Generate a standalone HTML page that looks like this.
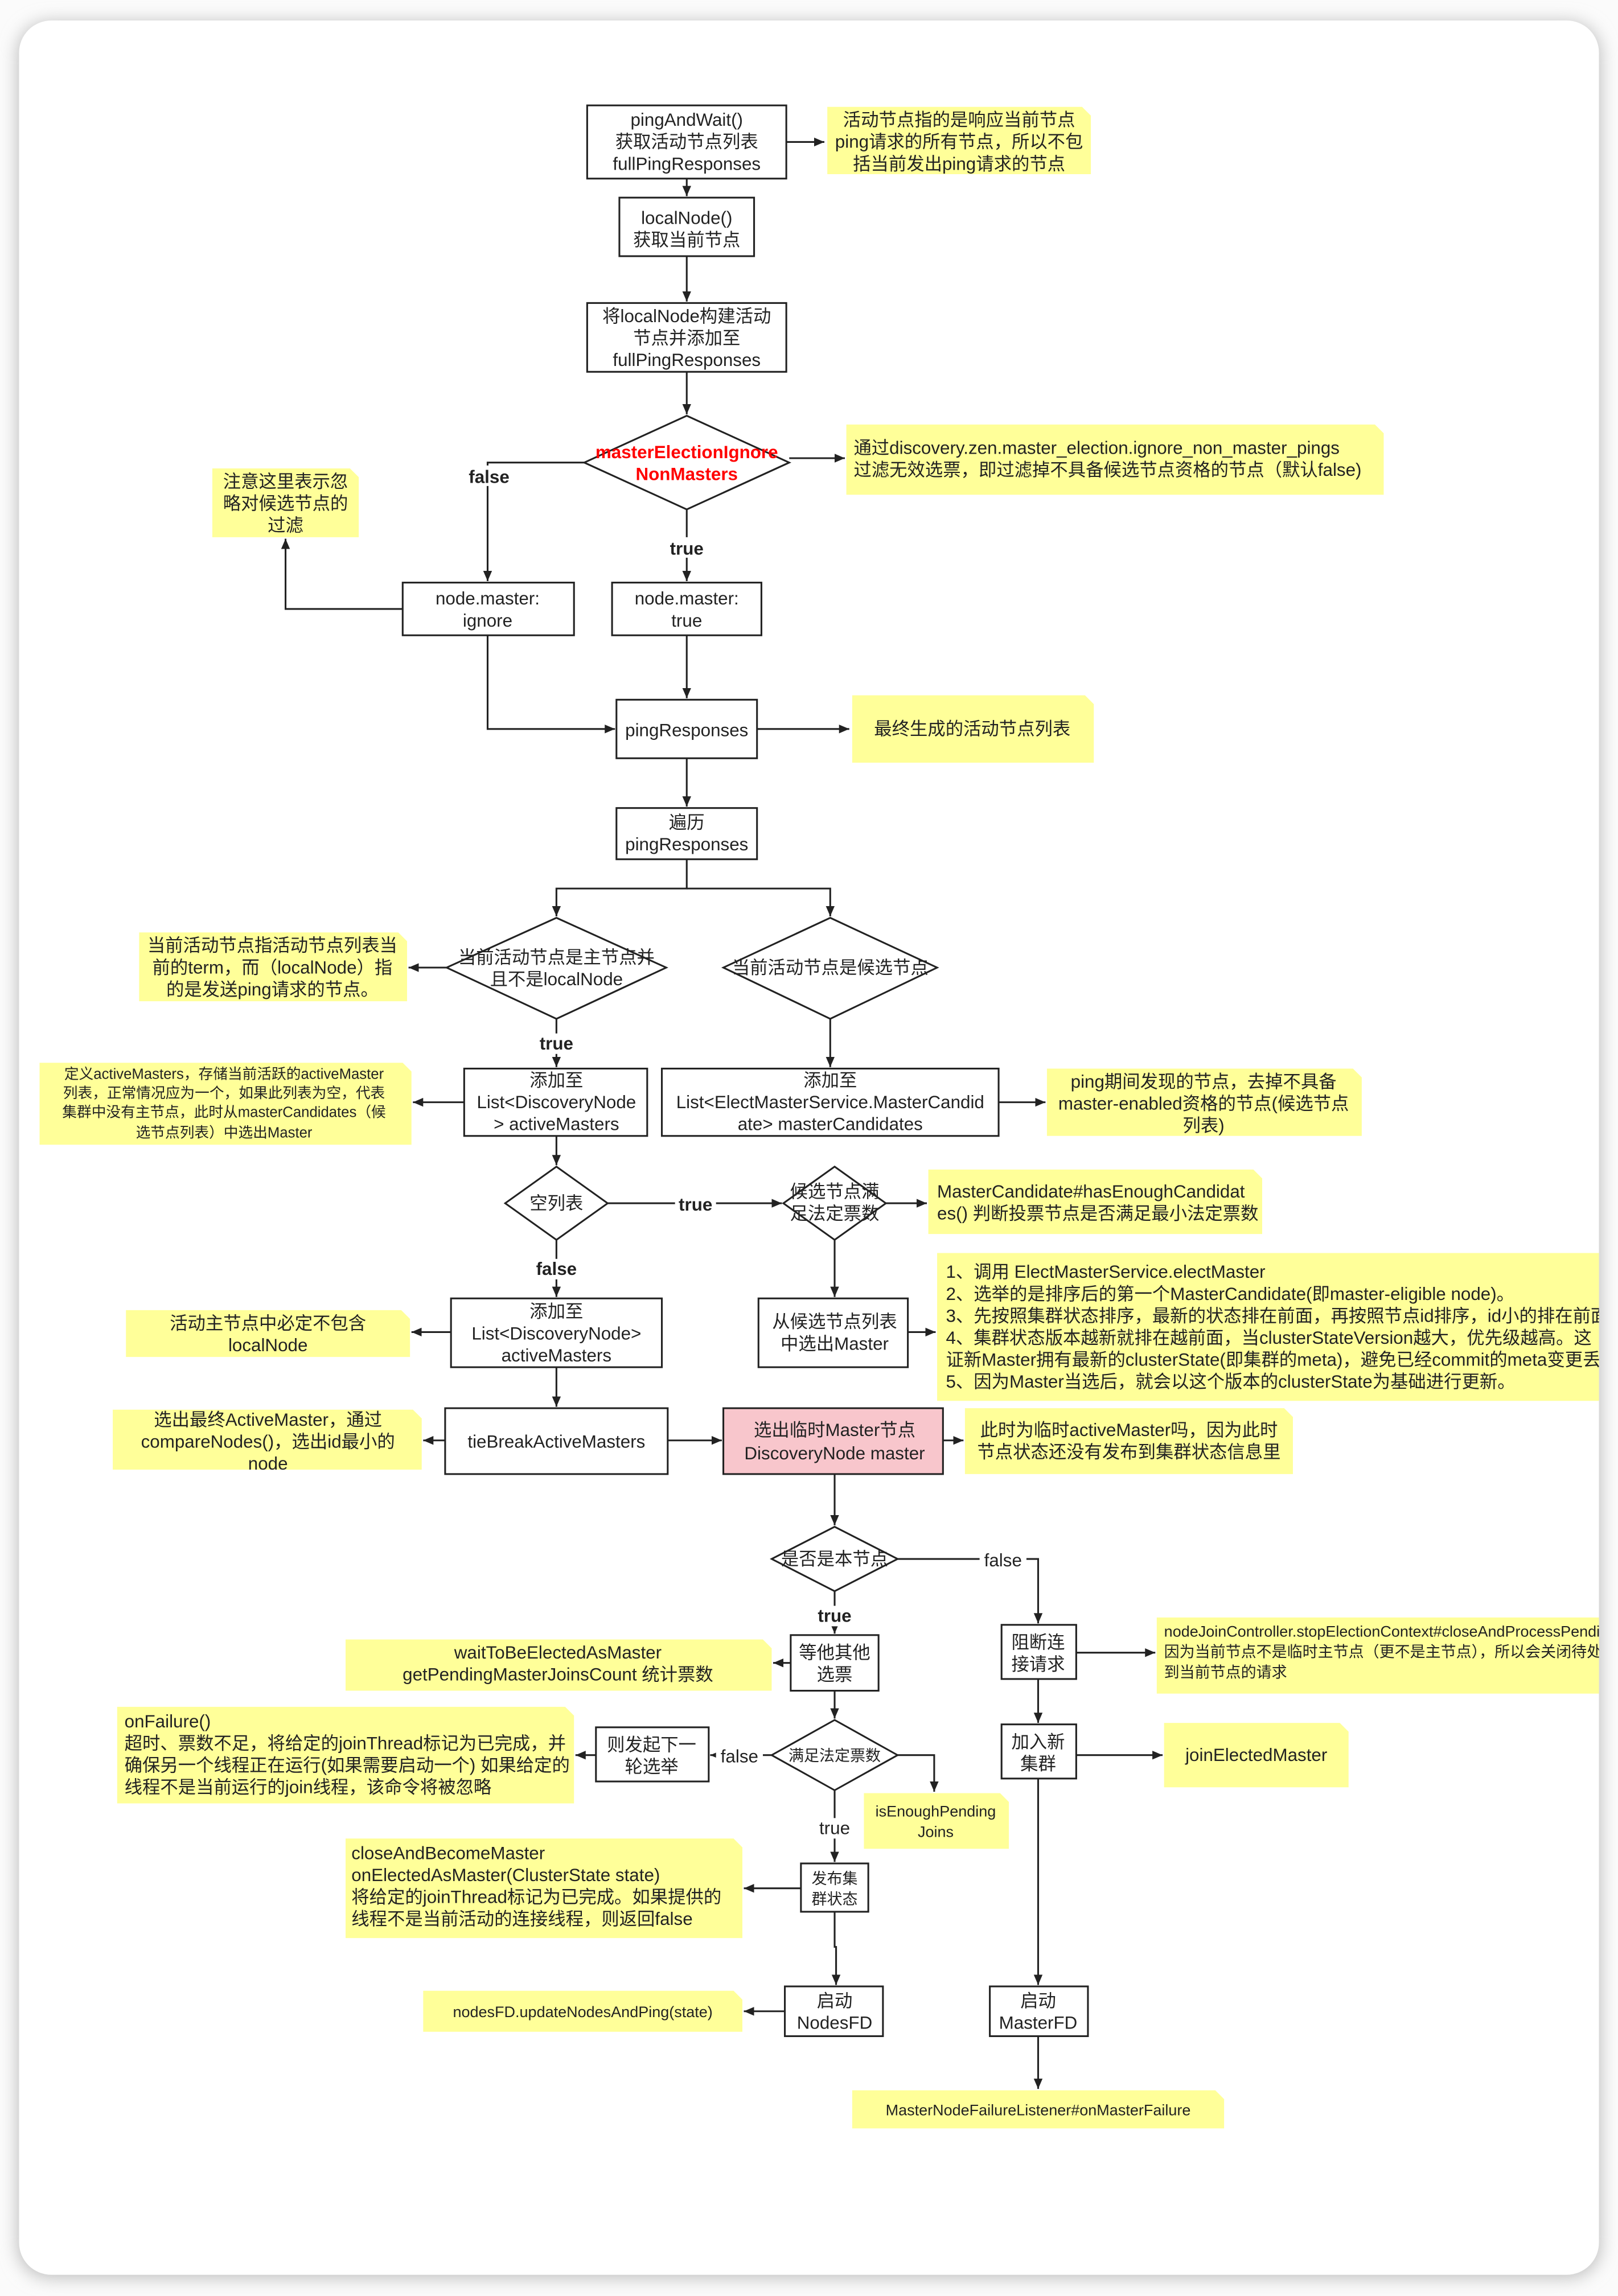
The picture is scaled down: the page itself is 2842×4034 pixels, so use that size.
<!DOCTYPE html>
<html><head><meta charset="utf-8">
<style>
html,body{margin:0;padding:0;background:#f3f3f3;}
svg{display:block;}
text{font-family:"Liberation Sans","Noto Sans CJK SC",sans-serif;font-size:12.2px;fill:#222;}
.s{font-size:10.5px;}
.xs{font-size:10px;}
</style></head><body>
<svg width="2842" height="4034" viewBox="0 0 1105 1568.5" xmlns="http://www.w3.org/2000/svg">
<defs>
<marker id="a" markerWidth="8" markerHeight="8" refX="7" refY="4" orient="auto" markerUnits="userSpaceOnUse"><path d="M0,1 L7,4 L0,7 Z" fill="#222"/></marker>
<filter id="sh" x="-5%" y="-5%" width="110%" height="110%"><feGaussianBlur stdDeviation="6"/></filter>
<clipPath id="cc"><rect x="13" y="14" width="1079" height="1540" rx="22"/></clipPath>
</defs>
<rect x="0" y="0" width="1105" height="1568.5" fill="#fbfbfb"/>
<rect x="12" y="15" width="1081" height="1541" rx="22" fill="#bdbdbd" filter="url(#sh)"/>
<rect x="13" y="14" width="1079" height="1540" rx="22" fill="#fff"/>
<g clip-path="url(#cc)" stroke-width="1.2">
<!-- notes -->
<g fill="#ffff99" stroke="none">
<path d="M565,73 H739 L745,79 V119 H565Z"/>
<path d="M578,290 H939 L945,296 V338 H578Z"/>
<path d="M145,320 H239 L245,326 V367 H145Z"/>
<path d="M582,475 H741 L747,481 V521 H582Z"/>
<path d="M95,637 H272 L278,643 V684 H95Z"/>
<path d="M27,726 H275 L281,732 V782 H27Z"/>
<path d="M715,730 H924 L930,736 V776 H715Z"/>
<path d="M634,799 H856 L862,805 V843 H634Z"/>
<path d="M86,895 H274 L280,901 V927 H86Z"/>
<path d="M640,856 H1100 V957 H640Z"/>
<path d="M77,963 H282 L288,969 V1004 H77Z"/>
<path d="M659,962 H877 L883,968 V1007 H659Z"/>
<path d="M790,1105 H1100 V1157 H790Z"/>
<path d="M795,1177 H915 L921,1183 V1221 H795Z"/>
<path d="M582,1428 H830 L836,1434 V1454 H582Z"/>
<path d="M236,1120 H521 L527,1126 V1155 H236Z"/>
<path d="M80,1166 H386 L392,1172 V1232 H80Z"/>
<path d="M590,1225 H683 L689,1231 V1263 H590Z"/>
<path d="M236,1256 H501 L507,1262 V1324 H236Z"/>
<path d="M289,1360 H501 L507,1366 V1388 H289Z"/>
</g>
<!-- boxes -->
<g fill="#fff" stroke="#222">
<rect x="401" y="72" width="136" height="50"/>
<rect x="423" y="135" width="92" height="40"/>
<rect x="401" y="207" width="136" height="47"/>
<polygon points="469,284 539,316 469,348 399,316"/>
<rect x="275" y="398" width="117" height="36"/>
<rect x="418" y="398" width="102" height="36"/>
<rect x="421" y="478" width="96" height="40"/>
<rect x="421" y="552" width="96" height="35"/>
<polygon points="380,627 455,661 380,696 305,661"/>
<polygon points="567,627 640,661 567,696 494,661"/>
<rect x="317" y="730" width="125" height="46"/>
<rect x="452" y="730" width="230" height="46"/>
<polygon points="380,797 415,822 380,847 345,822"/>
<polygon points="570,797 605,822 570,847 535,822"/>
<rect x="308" y="887" width="144" height="47"/>
<rect x="518" y="887" width="102" height="47"/>
<rect x="304" y="962" width="152" height="45"/>
<rect x="494" y="962" width="150" height="45" fill="#f8c6cc"/>
<polygon points="570,1043 613,1065 570,1087 527,1065"/>
<rect x="684" y="1110" width="51" height="37"/>
<rect x="684" y="1178" width="51" height="37"/>
<rect x="676" y="1357" width="67" height="34"/>
<rect x="540" y="1117" width="60" height="38"/>
<polygon points="570,1175 613,1199 570,1223 527,1199"/>
<rect x="407" y="1180" width="77" height="37"/>
<rect x="547" y="1273" width="46" height="33"/>
<rect x="536" y="1357" width="67" height="34"/>
</g>
<!-- connectors -->
<g fill="none" stroke="#222" marker-end="url(#a)">
<path d="M537,97 H563"/>
<path d="M469,122 V134"/>
<path d="M469,175 V206"/>
<path d="M469,254 V283"/>
<path d="M539,313 H577"/>
<path d="M399,316 H333 V397"/>
<path d="M469,348 V397"/>
<path d="M275,416 H195 V368"/>
<path d="M333,434 V498 H420"/>
<path d="M469,434 V477"/>
<path d="M517,498 H580"/>
<path d="M469,518 V551"/>
<path d="M469,587 V607 H380 V626" />
<path d="M469,607 H567 V626"/>
<path d="M305,661 H279"/>
<path d="M380,696 V729"/>
<path d="M567,696 V729"/>
<path d="M317,753 H282"/>
<path d="M682,753 H714"/>
<path d="M380,776 V796"/>
<path d="M415,822 H534"/>
<path d="M605,822 H633"/>
<path d="M380,847 V886"/>
<path d="M570,847 V886"/>
<path d="M308,910 H281"/>
<path d="M620,910 H639"/>
<path d="M380,934 V961"/>
<path d="M304,984 H289"/>
<path d="M456,984 H493"/>
<path d="M644,984 H658"/>
<path d="M570,1007 V1042"/>
<path d="M613,1065 H709 V1109"/>
<path d="M735,1129 H789"/>
<path d="M709,1147 V1177"/>
<path d="M735,1199 H794"/>
<path d="M709,1215 V1356"/>
<path d="M709,1391 V1427"/>
<path d="M570,1087 V1116"/>
<path d="M540,1136 H528"/>
<path d="M570,1155 V1174"/>
<path d="M527,1199 H485"/>
<path d="M407,1199 H393"/>
<path d="M613,1199 H638 V1224"/>
<path d="M570,1223 V1272"/>
<path d="M547,1290 H508"/>
<path d="M570,1306 V1330 H571 V1356"/>
<path d="M536,1374 H508"/>
</g>
<!-- edge labels -->
<g text-anchor="middle" font-weight="bold">
<rect x="318" y="318" width="32" height="14" fill="#fff"/><text x="334" y="330">false</text>
<rect x="455" y="367" width="28" height="14" fill="#fff"/><text x="469" y="379">true</text>
<rect x="366" y="706" width="28" height="14" fill="#fff"/><text x="380" y="717">true</text>
<rect x="461" y="815" width="28" height="14" fill="#fff"/><text x="475" y="827">true</text>
<rect x="364" y="860" width="32" height="14" fill="#fff"/><text x="380" y="871">false</text>
<rect x="556" y="1097" width="28" height="14" fill="#fff"/><text x="570" y="1108">true</text>
</g>
<g text-anchor="middle">
<rect x="669" y="1058" width="32" height="14" fill="#fff"/><text x="685" y="1070">false</text>
<rect x="489" y="1192" width="32" height="14" fill="#fff"/><text x="505" y="1204">false</text>
<rect x="556" y="1242" width="28" height="14" fill="#fff"/><text x="570" y="1253">true</text>
</g>
<!-- node texts -->
<g text-anchor="middle">
<text x="469" y="86">pingAndWait()</text><text x="469" y="101">获取活动节点列表</text><text x="469" y="116">fullPingResponses</text>
<text x="469" y="153">localNode()</text><text x="469" y="168">获取当前节点</text>
<text x="469" y="220">将localNode构建活动</text><text x="469" y="235">节点并添加至</text><text x="469" y="250">fullPingResponses</text>
<text x="469" y="313" fill="#ff0000" style="fill:#ff0000;font-weight:bold">masterElectionIgnore</text><text x="469" y="328" style="fill:#ff0000;font-weight:bold">NonMasters</text>
<text x="333" y="413">node.master:</text><text x="333" y="428">ignore</text>
<text x="469" y="413">node.master:</text><text x="469" y="428">true</text>
<text x="469" y="503">pingResponses</text>
<text x="469" y="566">遍历</text><text x="469" y="581">pingResponses</text>
<text x="380" y="658">当前活动节点是主节点并</text><text x="380" y="673">且不是localNode</text>
<text x="567" y="665">当前活动节点是候选节点</text>
<text x="380" y="742">添加至</text><text x="380" y="757">List&lt;DiscoveryNode</text><text x="380" y="772">&gt; activeMasters</text>
<text x="567" y="742">添加至</text><text x="567" y="757">List&lt;ElectMasterService.MasterCandid</text><text x="567" y="772">ate&gt; masterCandidates</text>
<text x="380" y="826">空列表</text>
<text x="570" y="818">候选节点满</text><text x="570" y="833">足法定票数</text>
<text x="380" y="900">添加至</text><text x="380" y="915">List&lt;DiscoveryNode&gt;</text><text x="380" y="930">activeMasters</text>
<text x="570" y="907">从候选节点列表</text><text x="570" y="922">中选出Master</text>
<text x="380" y="989">tieBreakActiveMasters</text>
<text x="570" y="981">选出临时Master节点</text><text x="570" y="997">DiscoveryNode master</text>
<text x="570" y="1069">是否是本节点</text>
<text x="709" y="1126">阻断连</text><text x="709" y="1141">接请求</text>
<text x="709" y="1194">加入新</text><text x="709" y="1209">集群</text>
<text x="709" y="1371">启动</text><text x="709" y="1386">MasterFD</text>
<text x="570" y="1133">等他其他</text><text x="570" y="1148">选票</text>
<text x="570" y="1203" class="s">满足法定票数</text>
<text x="445" y="1196">则发起下一</text><text x="445" y="1211">轮选举</text>
<text x="570" y="1287" class="s">发布集</text><text x="570" y="1301" class="s">群状态</text>
<text x="570" y="1371">启动</text><text x="570" y="1386">NodesFD</text>
</g>
<!-- note texts centered -->
<g text-anchor="middle">
<text x="655" y="86">活动节点指的是响应当前节点</text><text x="655" y="101">ping请求的所有节点，所以不包</text><text x="655" y="116">括当前发出ping请求的节点</text>
<text x="195" y="333">注意这里表示忽</text><text x="195" y="348">略对候选节点的</text><text x="195" y="363">过滤</text>
<text x="664" y="502">最终生成的活动节点列表</text>
<text x="186" y="650">当前活动节点指活动节点列表当</text><text x="186" y="665">前的term，而（localNode）指</text><text x="186" y="680">的是发送ping请求的节点。</text>
<text x="153" y="737" class="xs">定义activeMasters，存储当前活跃的activeMaster</text><text x="153" y="750" class="xs">列表，正常情况应为一个，如果此列表为空，代表</text><text x="153" y="763" class="xs">集群中没有主节点，此时从masterCandidates（候</text><text x="153" y="777" class="xs">选节点列表）中选出Master</text>
<text x="822" y="743">ping期间发现的节点，去掉不具备</text><text x="822" y="758">master-enabled资格的节点(候选节点</text><text x="822" y="773">列表)</text>
<text x="183" y="908">活动主节点中必定不包含</text><text x="183" y="923">localNode</text>
<text x="183" y="974">选出最终ActiveMaster，通过</text><text x="183" y="989">compareNodes()，选出id最小的</text><text x="183" y="1004">node</text>
<text x="771" y="981">此时为临时activeMaster吗，因为此时</text><text x="771" y="996">节点状态还没有发布到集群状态信息里</text>
<text x="858" y="1203">joinElectedMaster</text>
<text x="709" y="1445" class="s">MasterNodeFailureListener#onMasterFailure</text>
<text x="381" y="1133">waitToBeElectedAsMaster</text><text x="381" y="1148">getPendingMasterJoinsCount 统计票数</text>
<text x="639" y="1241" class="s">isEnoughPending</text><text x="639" y="1255" class="s">Joins</text>
<text x="398" y="1378" class="s">nodesFD.updateNodesAndPing(state)</text>
</g>
<!-- note texts left -->
<g text-anchor="start">
<text x="583" y="310">通过discovery.zen.master_election.ignore_non_master_pings</text><text x="583" y="325">过滤无效选票，即过滤掉不具备候选节点资格的节点（默认false)</text>
<text x="640" y="818">MasterCandidate#hasEnoughCandidat</text><text x="640" y="833">es() 判断投票节点是否满足最小法定票数</text>
<text x="646" y="873">1、调用 ElectMasterService.electMaster</text>
<text x="646" y="888">2、选举的是排序后的第一个MasterCandidate(即master-eligible node)。</text>
<text x="646" y="903">3、先按照集群状态排序，最新的状态排在前面，再按照节点id排序，id小的排在前面</text>
<text x="646" y="918">4、集群状态版本越新就排在越前面，当clusterStateVersion越大，优先级越高。这</text>
<text x="646" y="933">证新Master拥有最新的clusterState(即集群的meta)，避免已经commit的meta变更丢失</text>
<text x="646" y="948">5、因为Master当选后，就会以这个版本的clusterState为基础进行更新。</text>
<text x="795" y="1118" class="s">nodeJoinController.stopElectionContext#closeAndProcessPending</text>
<text x="795" y="1132" class="s">因为当前节点不是临时主节点（更不是主节点），所以会关闭待处理</text>
<text x="795" y="1146" class="s">到当前节点的请求</text>
<text x="85" y="1180">onFailure()</text><text x="85" y="1195">超时、票数不足，将给定的joinThread标记为已完成，并</text><text x="85" y="1210">确保另一个线程正在运行(如果需要启动一个) 如果给定的</text><text x="85" y="1225">线程不是当前运行的join线程，该命令将被忽略</text>
<text x="240" y="1270">closeAndBecomeMaster</text><text x="240" y="1285">onElectedAsMaster(ClusterState state)</text><text x="240" y="1300">将给定的joinThread标记为已完成。如果提供的</text><text x="240" y="1315">线程不是当前活动的连接线程，则返回false</text>
</g>
</g>
</svg>
</body></html>
